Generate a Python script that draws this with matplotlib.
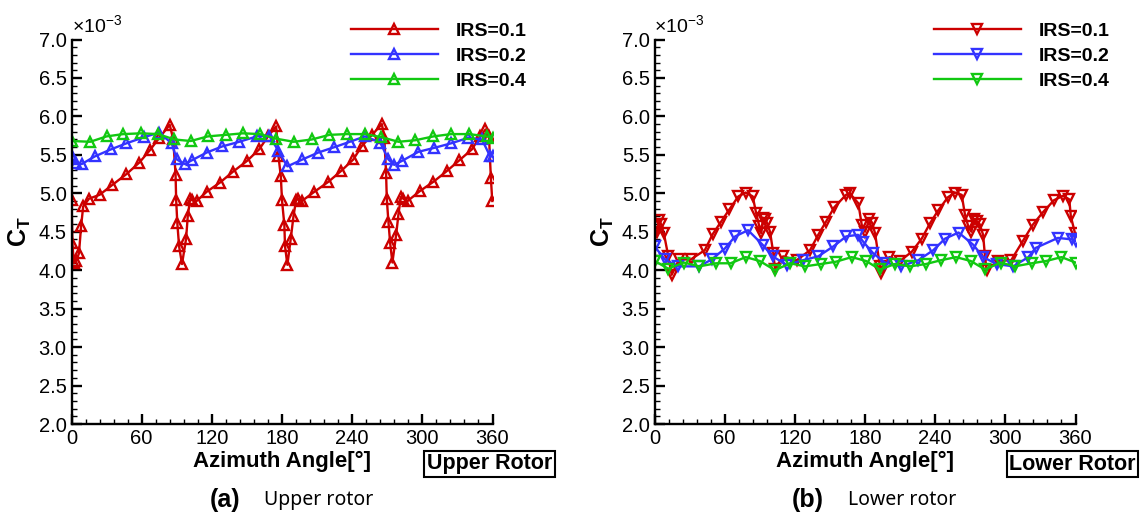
#!/usr/bin/env python3
"""Thrust coefficient vs azimuth for the upper and lower rotor at three IRS values."""

import matplotlib
matplotlib.use("Agg")
import matplotlib.pyplot as plt
from matplotlib.ticker import MultipleLocator

RED = "#cc0000"
BLUE = "#3333ff"
GREEN = "#11c811"

LABELS = ["IRS=0.1", "IRS=0.2", "IRS=0.4"]

# upper rotor -------------------------------------------------------------- #
up1_x = [0, 0.8, 2, 4, 6.4, 8.2, 10, 15, 24, 35, 47, 58, 67, 75, 84, 87,
         89, 89.5, 90.5, 92, 94.5, 98, 99.4, 101.4, 103, 107, 115.6, 127, 138,
         150, 160.4, 168, 175, 177, 179, 180, 182, 182.6, 184.6, 187.5, 189.8,
         192, 194, 197, 207.7, 219.7, 230.5, 241, 248, 257, 265.4, 267.5, 269,
         269.6, 271, 272.5, 274.4, 277.6, 279.6, 281.6, 283.7, 287.4, 298,
         309.5, 321, 331.7, 342.3, 349.5, 354, 357, 358.6, 359.8]
up1_y = [4.91, 4.35, 4.09, 4.12, 4.22, 4.57, 4.83, 4.93, 4.98, 5.11, 5.25,
         5.40, 5.56, 5.72, 5.89, 5.70, 5.24, 4.91, 4.61, 4.31, 4.08, 4.41, 4.70,
         4.92, 4.91, 4.90, 5.02, 5.14, 5.28, 5.42, 5.57, 5.74, 5.87, 5.48, 5.22,
         4.91, 4.59, 4.31, 4.07, 4.41, 4.70, 4.91, 4.93, 4.90, 5.02, 5.15, 5.29,
         5.44, 5.61, 5.76, 5.90, 5.72, 5.26, 4.93, 4.63, 4.35, 4.10, 4.46, 4.73,
         4.95, 4.93, 4.90, 5.03, 5.15, 5.29, 5.43, 5.57, 5.74, 5.83, 5.74, 5.20,
         4.90]

up2_x = [0, 1, 4, 8.7, 20, 33.5, 47, 62, 75, 85.7, 90, 97, 103, 115.6, 129,
         143.5, 158.4, 169, 177, 184.6, 197.5, 211, 224.8, 238, 251, 264, 271,
         276, 282.4, 296.7, 310, 324.6, 339, 351, 358, 360]
up2_y = [5.48, 5.44, 5.40, 5.38, 5.48, 5.57, 5.65, 5.73, 5.79, 5.65, 5.44,
         5.38, 5.43, 5.53, 5.61, 5.67, 5.74, 5.75, 5.55, 5.35, 5.44, 5.53, 5.60,
         5.67, 5.74, 5.66, 5.44, 5.37, 5.42, 5.54, 5.59, 5.65, 5.72, 5.70, 5.48,
         5.48]

up3_x = [0, 16, 30, 44.3, 59.5, 74, 88, 102, 116.5, 132, 146.5, 161, 175,
         190, 205.5, 220.5, 235.4, 251, 265, 279.6, 294, 309.5, 324.6, 340, 355,
         360]
up3_y = [5.68, 5.67, 5.74, 5.77, 5.78, 5.77, 5.70, 5.68, 5.74, 5.76, 5.78,
         5.77, 5.71, 5.67, 5.70, 5.76, 5.77, 5.77, 5.73, 5.67, 5.69, 5.74, 5.77,
         5.77, 5.74, 5.72]

# lower rotor -------------------------------------------------------------- #
lo1_x = [0, 2, 4, 5.5, 8, 11.8, 14.7, 21, 31, 43, 49.8, 56.9, 64, 71.7, 78,
         84, 86.8, 89.6, 91.3, 93, 94.5, 96, 98.8, 101.6, 103, 110, 121.6, 133,
         140, 146.6, 153.8, 163.8, 167, 174.3, 177.2, 180, 183.7, 186, 188.6,
         192.8, 194, 200.8, 210, 220, 228.5, 235.6, 242.7, 251, 257, 262.7,
         265.5, 268.3, 271, 273, 275.5, 278, 281, 282.6, 284, 294, 305, 315,
         323.4, 332.5, 341.6, 349.6, 354.7, 356, 359.6]
lo1_y = [4.48, 4.50, 4.65, 4.60, 4.48, 4.18, 3.94, 4.14, 4.14, 4.26, 4.47,
         4.63, 4.79, 4.96, 5.01, 4.96, 4.75, 4.57, 4.48, 4.68, 4.66, 4.62, 4.50,
         4.22, 4.02, 4.18, 4.13, 4.26, 4.46, 4.63, 4.82, 4.98, 5.00, 4.87, 4.59,
         4.50, 4.66, 4.62, 4.48, 4.05, 3.96, 4.17, 4.12, 4.24, 4.41, 4.61, 4.78,
         4.95, 5.01, 4.98, 4.72, 4.57, 4.50, 4.66, 4.64, 4.60, 4.46, 4.18, 4.00,
         4.12, 4.13, 4.38, 4.59, 4.76, 4.91, 4.97, 4.92, 4.70, 4.48]

lo2_x = [0, 9, 20, 38, 49, 60, 69, 80, 92.5, 101, 113, 127, 140, 153, 164,
         174, 178.5, 187, 197, 211, 225.6, 238.4, 248.4, 260, 272.6, 281, 292.6,
         306.8, 319.7, 326, 345, 357, 360]
lo2_y = [4.31, 4.14, 4.05, 4.05, 4.14, 4.28, 4.44, 4.52, 4.33, 4.18, 4.07,
         4.13, 4.18, 4.31, 4.44, 4.46, 4.37, 4.22, 4.10, 4.05, 4.13, 4.26, 4.41,
         4.49, 4.33, 4.17, 4.08, 4.05, 4.17, 4.29, 4.42, 4.40, 4.38]

lo3_x = [0, 11.8, 25, 38.3, 52.6, 65, 78, 90, 103, 116, 128.7, 142, 155,
         168.6, 180.9, 192.8, 205.6, 218.5, 232, 245, 257.8, 270.4, 282.6, 296,
         308, 322.5, 335, 348, 360]
lo3_y = [4.12, 4.02, 4.10, 4.05, 4.09, 4.09, 4.17, 4.12, 4.00, 4.09, 4.05,
         4.08, 4.11, 4.17, 4.12, 4.01, 4.08, 4.05, 4.08, 4.13, 4.17, 4.12, 4.01,
         4.10, 4.05, 4.09, 4.12, 4.17, 4.10]

X_TICKS = [0, 60, 120, 180, 240, 300, 360]

FIG_W, FIG_H = 1142, 516


def fx(px):
    return px / FIG_W


def fy(py):
    return 1 - py / FIG_H


def panel(fig, left_px, series, marker, box_text, tag, caption):
    ax = fig.add_axes([fx(left_px), fy(424), 421 / FIG_W, 384.5 / FIG_H])
    for (x, y), color, lab in zip(series, [RED, BLUE, GREEN], LABELS):
        ax.plot(x, [v * 1e-3 for v in y], color=color, lw=1.7, marker=marker,
                ms=7.8, mfc="none", mec=color, mew=1.7, label=lab)

    ax.set_xlim(0, 360)
    ax.set_ylim(2.0e-3, 7.0e-3)
    ax.set_xticks(X_TICKS)
    ax.xaxis.set_minor_locator(MultipleLocator(12))
    ax.yaxis.set_major_locator(MultipleLocator(0.5e-3))
    ax.yaxis.set_minor_locator(MultipleLocator(0.1e-3))
    ax.set_yticklabels([f"{t * 1e3:.1f}" for t in ax.get_yticks()])
    for s in ("top", "right"):
        ax.spines[s].set_visible(False)
    for s in ("left", "bottom"):
        ax.spines[s].set_linewidth(1.7)
    ax.tick_params(which="major", direction="in", length=7, width=1.7,
                   labelsize=14.5, pad=3.5)
    ax.tick_params(which="minor", direction="in", length=3.5, width=1.0)

    ax.set_xlabel("Azimuth Angle[°]", fontsize=16, fontweight="bold", labelpad=2)
    ax.set_ylabel(r"$\mathbf{C_T}$", fontsize=18, labelpad=4)
    ax.text(0.0, 1.008, r"$\times10^{-3}$", transform=ax.transAxes,
            fontsize=14, ha="left", va="bottom")

    ax.legend(loc="upper left", bbox_to_anchor=(fx(left_px + 279), fy(22)),
              bbox_transform=fig.transFigure, frameon=False, numpoints=1,
              prop={"weight": "bold", "size": 14}, handlelength=4.5,
              handletextpad=0.9, labelspacing=0.38, borderpad=0, borderaxespad=0)

    fig.text(fx(left_px + 418), fy(464), box_text, fontsize=15.5, fontweight="bold",
             ha="center", va="center",
             bbox=dict(boxstyle="square,pad=0.12", fc="white", ec="black", lw=1.5))

    fig.text(fx(left_px + 169), fy(500), tag, fontsize=18, fontweight="bold",
             ha="right", va="center")
    fig.text(fx(left_px + 193), fy(500), caption, fontsize=14, family="Noto Sans",
             ha="left", va="center")
    return ax


def main():
    plt.rcParams.update({
        "font.family": ["Liberation Sans", "DejaVu Sans"],
        "mathtext.fontset": "custom",
        "mathtext.rm": "Liberation Sans",
        "mathtext.bf": "Liberation Sans:bold",
        "mathtext.it": "Liberation Sans:italic",
    })
    fig = plt.figure(figsize=(FIG_W / 100, FIG_H / 100), dpi=100)

    panel(fig, 71.5, [(up1_x, up1_y), (up2_x, up2_y), (up3_x, up3_y)], "^",
          "Upper Rotor", "(a)", "Upper rotor")
    panel(fig, 654.5, [(lo1_x, lo1_y), (lo2_x, lo2_y), (lo3_x, lo3_y)], "v",
          "Lower Rotor", "(b)", "Lower rotor")

    fig.savefig("out.png", dpi=100)


if __name__ == "__main__":
    main()
